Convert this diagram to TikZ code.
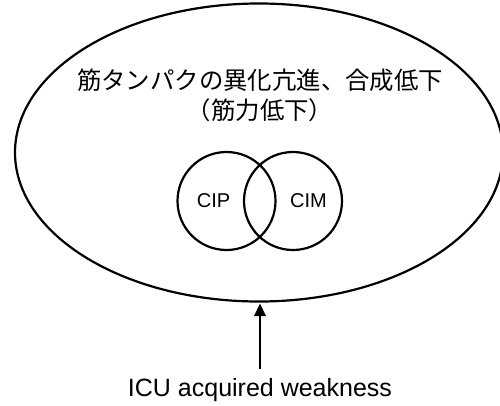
\documentclass[tikz,border=0pt]{standalone}
\usepackage{fontspec}
\setmainfont{Liberation Sans}
\newfontfamily\jpfont{Noto Sans CJK JP}
\usetikzlibrary{arrows.meta,shapes.geometric}
\begin{document}
\begin{tikzpicture}[x=1pt,y=-1pt,
  outline/.style={draw=black,line width=2.2pt},
  lbl/.style={inner sep=0pt,align=center}]
\useasboundingbox (0,0) rectangle (500,405);
\fill[white] (0,0) rectangle (500,405);
\node[outline,ellipse,minimum width=488pt,minimum height=298pt,inner sep=0pt,outer sep=0pt] (big) at (259,152.5) {};
\node[lbl,font=\jpfont\fontsize{24.4}{30}\selectfont] (title) at (260,95) {筋タンパクの異化亢進、合成低下\\（筋力低下）};
\node[outline,circle,minimum size=98pt,inner sep=0pt] (cip) at (226.5,201) {};
\node[outline,circle,minimum size=98pt,inner sep=0pt] (cim) at (293,201) {};
\node[lbl,font=\fontsize{20}{24}\selectfont] (ciplbl) at (213.5,201) {CIP};
\node[lbl,font=\fontsize{20}{24}\selectfont] (cimlbl) at (308.5,201) {CIM};
\node[lbl,font=\fontsize{25}{30}\selectfont] (icu) at (260,390) {ICU acquired weakness};
\coordinate (start) at (260,369);
\coordinate (tipend) at (260,303.5);
\coordinate (tipbase) at (260,315);
\draw[line width=2.2pt] (start) -- (tipbase);
\fill (tipend) -- (254,316) -- (266,316) -- cycle;
\end{tikzpicture}
\end{document}
